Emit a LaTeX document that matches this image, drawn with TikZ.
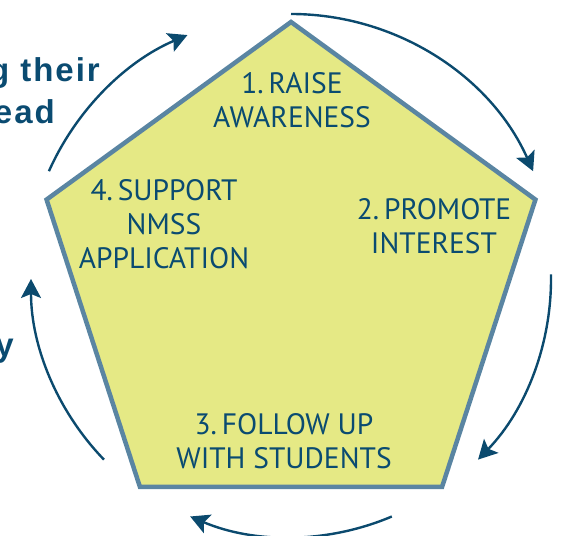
\documentclass[tikz,border=0pt]{standalone}
\usepackage{fontspec}
\setmainfont{PT Sans}
\newfontfamily\headfont[LetterSpace=6]{Liberation Sans}
\usetikzlibrary{shapes.geometric,arrows.meta}
\definecolor{stepfill}{HTML}{E5E985}
\definecolor{stepline}{HTML}{5A85A2}
\definecolor{steptext}{HTML}{0A4B71}
\definecolor{cyclearrow}{HTML}{0B4A6E}

\begin{document}
\begin{tikzpicture}[x=1pt,y=1pt,
  steplabel/.style={text=steptext,align=center,inner sep=0pt,font=\fontsize{29.5}{34}\selectfont},
  cyclearc/.style={draw=cyclearrow,line width=2.4pt,-{Stealth[length=19pt,width=20pt,inset=4pt]}},
  sidetext/.style={text=steptext,anchor=base east,inner sep=0pt,font=\headfont\bfseries\fontsize{33}{40}\selectfont}]
\useasboundingbox (0,0) rectangle (561,535);
\coordinate (c) at (291,256);
%pentagon
\node[regular polygon,regular polygon sides=5,minimum size=514pt,inner sep=0pt,outer sep=0pt,
  draw=stepline,line width=4.5pt,fill=stepfill] (pent) at (c) {};
\node[steplabel] (raise) at (292,435) {1.\,RAISE\\AWARENESS};
\node[steplabel] (promote) at (434,309) {2.\,PROMOTE\\INTEREST};
\node[steplabel] (follow) at (284,94) {3.\,FOLLOW UP\\WITH STUDENTS};
\node[steplabel] (support) at (164,311) {4.\,SUPPORT\\NMSS\\APPLICATION};
%cycle arrows, clockwise
\draw[cyclearc] (c) ++(90:265) arc[start angle=90,end angle=24,radius=265];
\draw[cyclearc] (c) ++(1:260) arc[start angle=1,end angle=-44,radius=260];
\draw[cyclearc] (c) ++(-67:258) arc[start angle=-67,end angle=-113,radius=258];
\draw[cyclearc] (c) ++(-136:260) arc[start angle=-136,end angle=-180,radius=260];
\draw[cyclearc] (c) ++(156:265) arc[start angle=156,end angle=113,radius=265];
%cut-off text on the left
\node[sidetext] (their) at (100,453) {g their};
\node[sidetext] (ead) at (55,411) {ead};
\node[sidetext] (why) at (14,178) {y};
\end{tikzpicture}
\end{document}
